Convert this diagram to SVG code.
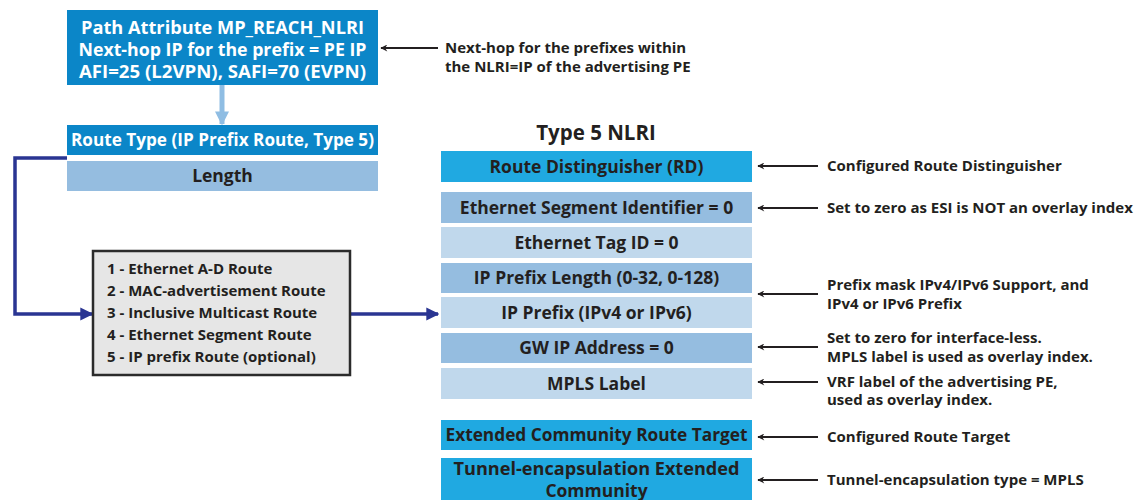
<svg xmlns="http://www.w3.org/2000/svg" width="1142" height="500" viewBox="0 0 1142 500">
<defs>
<style>
text{font-family:"Open Sans","Noto Sans",sans-serif;font-weight:600;}
.wt{fill:#ffffff;font-size:17px;text-anchor:middle;font-weight:700;}
.bt{fill:#231f20;font-size:17.5px;text-anchor:middle;font-weight:700;}
.nt{fill:#231f20;font-size:15px;font-weight:700;}
.lt{fill:#231f20;font-size:15px;font-weight:700;}
.title{fill:#231f20;font-size:20.5px;font-weight:700;text-anchor:middle;}
.dark{fill:#0b86c8;}
.bright{fill:#20a9e1;}
.mid{fill:#95bde0;}
.pale{fill:#c0d8ec;}
.note{stroke:#231f20;stroke-width:2.2;fill:none;}
.blue{stroke:#2a3592;stroke-width:3.5;fill:none;}
</style>
<marker id="ah" viewBox="0 0 10 10" refX="9" refY="5" markerWidth="9" markerHeight="7" markerUnits="userSpaceOnUse" orient="auto"><path d="M0,0 L10,5 L0,10 L3,5 Z" fill="#231f20"/></marker>
<marker id="bh" viewBox="0 0 10 10" refX="9" refY="5" markerWidth="13" markerHeight="14" markerUnits="userSpaceOnUse" orient="auto"><path d="M0,0 L10,5 L0,10 Z" fill="#2a3592"/></marker>
<marker id="lh" viewBox="0 0 10 10" refX="9" refY="5" markerWidth="14" markerHeight="16" markerUnits="userSpaceOnUse" orient="auto"><path d="M0,0 L10,5 L0,10 Z" fill="#8fbde3"/></marker>
</defs>

<g id="connectors">
<line x1="222" y1="85" x2="222" y2="124" stroke="#8fbde3" stroke-width="5" marker-end="url(#lh)"/>
<polyline class="blue" points="67,158 15,158 15,314 92,314" marker-end="url(#bh)"/>
<line class="blue" x1="350" y1="314" x2="438" y2="314" marker-end="url(#bh)"/>
<line class="note" x1="438" y1="48" x2="381" y2="48" marker-end="url(#ah)"/>
<line class="note" x1="818" y1="166" x2="758" y2="166" marker-end="url(#ah)"/>
<line class="note" x1="818" y1="208" x2="758" y2="208" marker-end="url(#ah)"/>
<line class="note" x1="818" y1="294" x2="758" y2="294" marker-end="url(#ah)"/>
<line class="note" x1="818" y1="347" x2="758" y2="347" marker-end="url(#ah)"/>
<line class="note" x1="818" y1="382" x2="758" y2="382" marker-end="url(#ah)"/>
<line class="note" x1="818" y1="437" x2="758" y2="437" marker-end="url(#ah)"/>
<line class="note" x1="818" y1="480" x2="758" y2="480" marker-end="url(#ah)"/>
</g>

<g id="path-attribute">
<rect class="dark" x="67" y="10" width="311" height="75"/>
<text class="wt" x="222.5" y="34" textLength="283" lengthAdjust="spacingAndGlyphs">Path Attribute MP_REACH_NLRI</text>
<text class="wt" x="222.5" y="56" textLength="288" lengthAdjust="spacingAndGlyphs">Next-hop IP for the prefix = PE IP</text>
<text class="wt" x="222.5" y="78" textLength="287" lengthAdjust="spacingAndGlyphs">AFI=25 (L2VPN), SAFI=70 (EVPN)</text>
</g>

<g id="route-type">
<rect class="dark" x="67" y="125" width="311" height="30"/>
<text class="wt" x="222.5" y="146" textLength="303" lengthAdjust="spacingAndGlyphs">Route Type (IP Prefix Route, Type 5)</text>
</g>

<g id="length">
<rect class="mid" x="67" y="161" width="311" height="30"/>
<text class="bt" x="222.5" y="182">Length</text>
</g>

<g id="route-types-list">
<rect x="93" y="251" width="257" height="124" fill="#e6e6e6" stroke="#2b2b2b" stroke-width="2.5"/>
<text class="nt" x="107" y="274">1 - Ethernet A-D Route</text>
<text class="nt" x="107" y="296">2 - MAC-advertisement Route</text>
<text class="nt" x="107" y="318">3 - Inclusive Multicast Route</text>
<text class="nt" x="107" y="340">4 - Ethernet Segment Route</text>
<text class="nt" x="107" y="362">5 - IP prefix Route (optional)</text>
</g>

<g id="type5-title">
<text class="title" x="596" y="140">Type 5 NLRI</text>
</g>

<g id="rd">
<rect class="bright" x="441" y="151" width="311" height="31"/>
<text class="bt" x="596.5" y="172.5">Route Distinguisher (RD)</text>
</g>
<g id="esi">
<rect class="mid" x="441" y="192" width="311" height="31"/>
<text class="bt" x="596.5" y="213.5">Ethernet Segment Identifier = 0</text>
</g>
<g id="eth-tag">
<rect class="pale" x="441" y="227" width="311" height="31"/>
<text class="bt" x="596.5" y="248.5">Ethernet Tag ID = 0</text>
</g>
<g id="ip-prefix-length">
<rect class="mid" x="441" y="263" width="311" height="30"/>
<text class="bt" x="596.5" y="284">IP Prefix Length (0-32, 0-128)</text>
</g>
<g id="ip-prefix">
<rect class="pale" x="441" y="297" width="311" height="31"/>
<text class="bt" x="596.5" y="318.5">IP Prefix (IPv4 or IPv6)</text>
</g>
<g id="gw-ip">
<rect class="mid" x="441" y="333" width="311" height="30"/>
<text class="bt" x="596.5" y="354">GW IP Address = 0</text>
</g>
<g id="mpls-label">
<rect class="pale" x="441" y="368" width="311" height="31"/>
<text class="bt" x="596.5" y="389.5">MPLS Label</text>
</g>
<g id="ext-comm-rt">
<rect class="bright" x="441" y="420" width="311" height="30"/>
<text class="bt" x="596.5" y="441" textLength="302" lengthAdjust="spacingAndGlyphs">Extended Community Route Target</text>
</g>
<g id="tunnel-encap">
<rect class="bright" x="441" y="458" width="311" height="50"/>
<text class="bt" x="596.5" y="475" textLength="286" lengthAdjust="spacingAndGlyphs">Tunnel-encapsulation Extended</text>
<text class="bt" x="596.5" y="497">Community</text>
</g>

<g id="notes">
<text class="lt" x="445" y="53">Next-hop for the prefixes within</text>
<text class="lt" x="445" y="72">the NLRI=IP of the advertising PE</text>
<text class="lt" x="827" y="171">Configured Route Distinguisher</text>
<text class="lt" x="827" y="213">Set to zero as ESI is NOT an overlay index</text>
<text class="lt" x="827" y="290">Prefix mask IPv4/IPv6 Support, and</text>
<text class="lt" x="827" y="309">IPv4 or IPv6 Prefix</text>
<text class="lt" x="827" y="343">Set to zero for interface-less.</text>
<text class="lt" x="827" y="362">MPLS label is used as overlay index.</text>
<text class="lt" x="827" y="387">VRF label of the advertising PE,</text>
<text class="lt" x="827" y="405">used as overlay index.</text>
<text class="lt" x="827" y="442">Configured Route Target</text>
<text class="lt" x="827" y="485">Tunnel-encapsulation type = MPLS</text>
</g>
</svg>
